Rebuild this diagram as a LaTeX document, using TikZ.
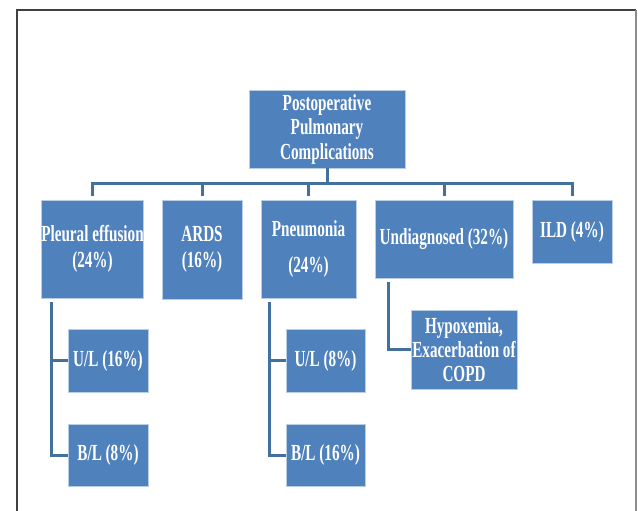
\documentclass[tikz,border=0pt]{standalone}
\usepackage{fontspec}
\newfontfamily\boxfont[FakeStretch=0.66]{Liberation Serif}
\definecolor{boxblue}{HTML}{4F81BD}
\definecolor{boxedge}{HTML}{B9CDE5}
\definecolor{linkblue}{HTML}{41719C}
\tikzset{
  box/.style={rectangle, fill=boxblue, draw=boxedge, line width=0.8pt, text=white,
    font=\boxfont\bfseries\fontsize{23}{26.5}\selectfont, align=center, inner sep=0pt, outer sep=0pt},
  link/.style={draw=linkblue, line width=3pt, line join=miter},
  frame/.style={line width=1.5pt}
}
\begin{document}
\begin{tikzpicture}[x=1pt,y=-1pt]
\useasboundingbox (0,0) rectangle (638,511);
\fill[white] (0,0) rectangle (638,511);
% frame
\coordinate (fbl) at (17,515);
\coordinate (ftl) at (17,10);
\coordinate (ftr) at (636,10);
\coordinate (fbr) at (636,515);
\draw[frame, draw=black!75] (fbl) -- (ftl) -- (ftr);
\draw[frame, draw=black!45] (ftr) -- (fbr);
% nodes
\node[box, minimum width=156pt, minimum height=78pt] (root) at (327,129) {Postoperative\\[-2pt]Pulmonary\\[-2pt]Complications};
\node[box, minimum width=101pt, minimum height=98pt] (pleural) at (92.5,249) {Pleural effusion\\(24\%)};
\node[box, minimum width=80pt, minimum height=99pt] (ards) at (202,249.5) {ARDS\\(16\%)};
\node[box, minimum width=95pt, minimum height=98pt] (pneu) at (308.5,249) {Pneumonia\\[9pt](24\%)};
\node[box, minimum width=138pt, minimum height=78pt] (undiag) at (444,239) {Undiagnosed (32\%)};
\node[box, minimum width=80pt, minimum height=63pt] (ild) at (572,231.5) {ILD (4\%)};
\node[box, minimum width=80pt, minimum height=63pt] (ul1) at (108,360.5) {U/L (16\%)};
\node[box, minimum width=80pt, minimum height=62pt] (bl1) at (108,455) {B/L (8\%)};
\node[box, minimum width=79pt, minimum height=63pt] (ul2) at (325.5,360.5) {U/L (8\%)};
\node[box, minimum width=79pt, minimum height=62pt] (bl2) at (325.5,455) {B/L (16\%)};
\node[box, minimum width=106pt, minimum height=79pt] (hypo) at (464,349.5) {Hypoxemia,\\[-2.5pt]Exacerbation of\\[-2.5pt]COPD};
% top-level connectors
\coordinate (bar) at (0,183);
\foreach \c in {pleural,ards,pneu,undiag,ild}{
  \draw[link] (root.south) -- (root.south |- bar) -| ([yshift=4pt]\c.north);
}
% sub connectors
\coordinate (pv) at ([xshift=10pt,yshift=-4pt]pleural.south west);
\draw[link] (pv) |- (ul1.west);
\draw[link] (pv) |- (bl1.west);
\coordinate (nv) at ([xshift=8pt,yshift=-4pt]pneu.south west);
\draw[link] (nv) |- (ul2.west);
\draw[link] (nv) |- (bl2.west);
\coordinate (uv) at ([xshift=13pt,yshift=-4pt]undiag.south west);
\draw[link] (uv) |- (hypo.west);
\end{tikzpicture}
\end{document}
